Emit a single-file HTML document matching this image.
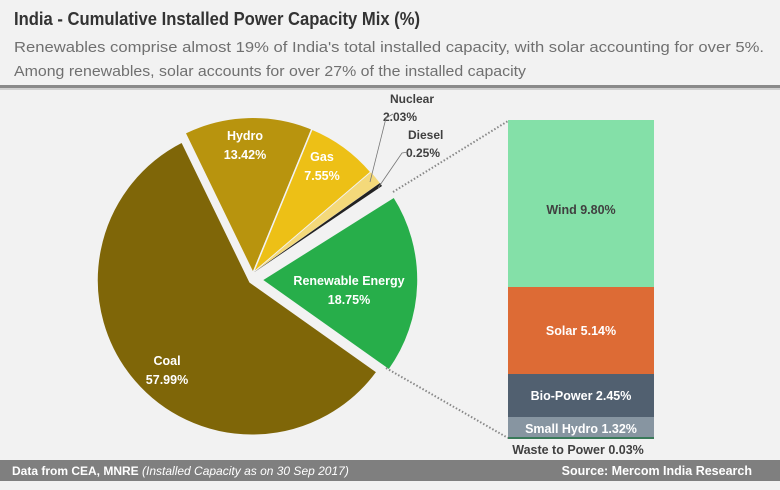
<!DOCTYPE html>
<html><head><meta charset="utf-8"><style>
html,body{margin:0;padding:0;background:#f2f2f2;}
svg{display:block;font-family:"Liberation Sans",sans-serif;}
</style></head><body>
<svg width="780" height="490" viewBox="0 0 780 490">
<rect width="780" height="490" fill="#f2f2f2"/>
<text x="14" y="25" font-size="18" font-weight="bold" fill="#333" textLength="406" lengthAdjust="spacingAndGlyphs">India - Cumulative Installed Power Capacity Mix (%)</text>
<text x="14" y="52" font-size="15" fill="#707070" textLength="750" lengthAdjust="spacingAndGlyphs">Renewables comprise almost 19% of India's total installed capacity, with solar accounting for over 5%.</text>
<text x="14" y="76" font-size="15" fill="#707070" textLength="512" lengthAdjust="spacingAndGlyphs">Among renewables, solar accounts for over 27% of the installed capacity</text>
<rect x="0" y="85" width="780" height="3" fill="#8a8a8a"/>
<rect x="0" y="88" width="780" height="2" fill="#d0d0d0"/>

<!-- pie -->
<g stroke="#f2f2f2" stroke-width="1.5">
<path d="M250,282 L377,372 A155,155 0 1 1 182,142 Z" fill="#7f6608"/>
<path d="M253,273 L185,133 A155,155 0 0 1 312,129 Z" fill="#b8940e"/>
<path d="M253,273 L312,129 A155,155 0 0 1 371,172 Z" fill="#edc016"/>
<path d="M253,273 L371,172 A155,155 0 0 1 380,183 Z" fill="#f4d97a" stroke-width="0.5"/>
<path d="M253,273 L380,183 A155,155 0 0 1 382,186 Z" fill="#222" stroke="none"/>
<path d="M262,280 L394,197 A155,155 0 0 1 389,370 Z" fill="#27ae4a"/>
</g>
<g font-weight="bold" font-size="12.5" fill="#fff" text-anchor="middle">
<text x="245" y="140">Hydro</text><text x="245" y="159">13.42%</text>
<text x="322" y="161">Gas</text><text x="322" y="180">7.55%</text>
<text x="349" y="285">Renewable Energy</text><text x="349" y="304">18.75%</text>
<text x="167" y="365">Coal</text><text x="167" y="384">57.99%</text>
</g>
<g font-weight="bold" font-size="12" fill="#404040">
<text x="390" y="103">Nuclear</text><text x="383" y="121">2.03%</text>
<text x="408" y="139">Diesel</text><text x="406" y="157">0.25%</text>
</g>
<g fill="none" stroke="#777" stroke-width="0.8">
<polyline points="370,182 386,118 393,114"/>
<polyline points="378,188 402,153 408,152"/>
</g>
<g stroke="#888" stroke-width="2" stroke-dasharray="1.5,2" fill="none">
<line x1="393" y1="192" x2="508" y2="121"/>
<line x1="386" y1="368" x2="508" y2="438"/>
</g>

<!-- bar -->
<rect x="508" y="120" width="146" height="167" fill="#84e0a8"/>
<rect x="508" y="287" width="146" height="87" fill="#dd6b35"/>
<rect x="508" y="374" width="146" height="43" fill="#516070"/>
<rect x="508" y="417" width="146" height="21" fill="#8795a1"/>
<rect x="508" y="437" width="146" height="2" fill="#3a7a5a"/>
<g font-weight="bold" font-size="12.5" fill="#fff" text-anchor="middle">
<text x="581" y="214" fill="#404040">Wind 9.80%</text>
<text x="581" y="335">Solar 5.14%</text>
<text x="581" y="400">Bio-Power 2.45%</text>
<text x="581" y="433">Small Hydro 1.32%</text>
</g>
<text x="578" y="454" font-weight="bold" font-size="12.5" fill="#404040" text-anchor="middle">Waste to Power 0.03%</text>

<!-- footer -->
<rect x="0" y="460" width="780" height="21" fill="#7f7f7f"/>
<text x="12" y="475" font-size="12" font-weight="bold" fill="#fff">Data from CEA, MNRE <tspan font-weight="normal" font-style="italic"> (Installed Capacity as on 30 Sep 2017)</tspan></text>
<text x="752" y="475" font-size="12.5" font-weight="bold" fill="#fff" text-anchor="end">Source: Mercom India Research</text>
</svg>
</body></html>
